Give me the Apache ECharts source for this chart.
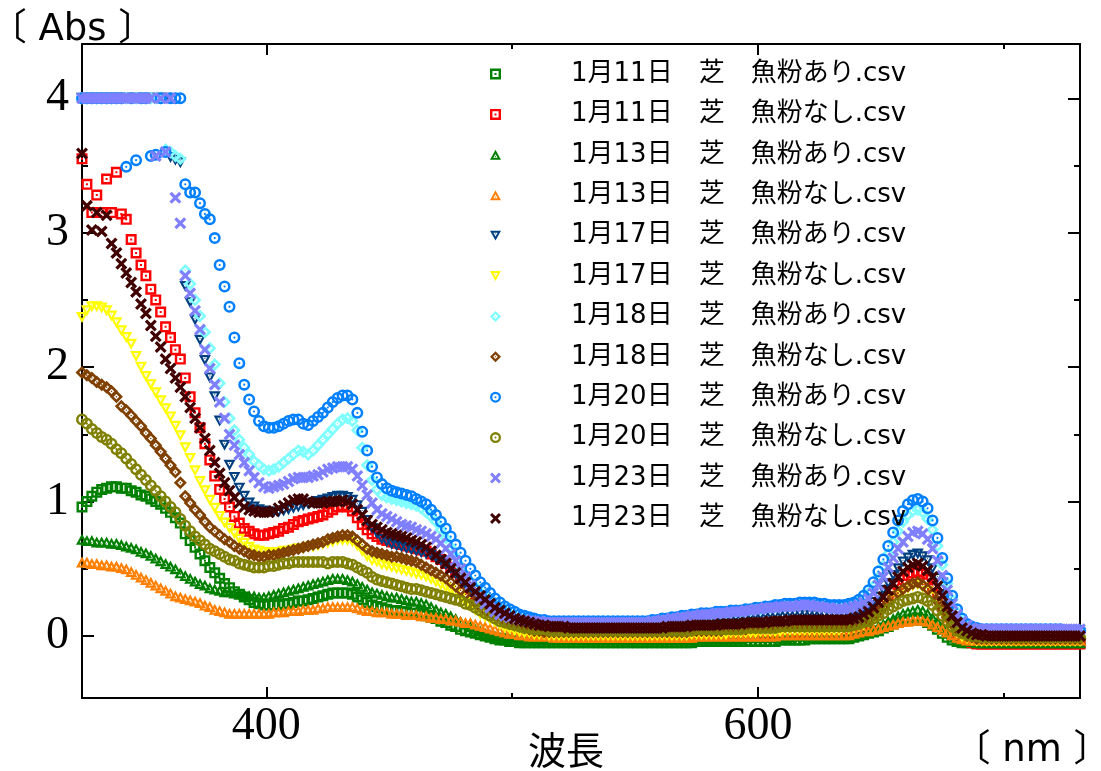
<!DOCTYPE html>
<html>
<head>
<meta charset="utf-8">
<script src="https://cdn.jsdelivr.net/npm/echarts@6/dist/echarts.min.js"></script>
<style>
html,body{margin:0;padding:0;background:#fff;}
#main{width:1101px;height:771px;}
</style>
</head>
<body>
<div id="main"></div>
<script>
// wavelength grid (nm)
const wl = [
325,327,329,331,333,335,337,339,341,343,
345,347,349,351,353,355,357,359,361,363,
365,367,369,371,373,375,377,379,381,383,
385,387,389,391,393,395,397,399,401,403,
405,407,409,411,413,415,417,419,421,423,
425,427,429,431,433,435,437,439,441,443,
445,447,449,451,453,455,457,459,461,463,
465,467,469,471,473,475,477,479,481,483,
485,487,489,491,493,495,497,499,501,503,
505,507,509,511,513,515,517,519,521,523,
525,527,529,531,533,535,537,539,541,543,
545,547,549,551,553,555,557,559,561,563,
565,567,569,571,573,575,577,579,581,583,
585,587,589,591,593,595,597,599,601,603,
605,607,609,611,613,615,617,619,621,623,
625,627,629,631,633,635,637,639,641,643,
645,647,649,651,653,655,657,659,661,663,
665,667,669,671,673,675,677,679,681,683,
685,687,689,691,693,695,697,699,701,703,
705,707,709,711,713,715,717,719,721,723,
725,727,729,731];

const xMajorTicks = [400, 600];
const xMinorTicks = [500, 700];
const yMajorTicks = [0, 1, 2, 3, 4];
const yMinorTicks = [0.5, 1.5, 2.5, 3.5];

const seriesNames = [
'1月11日\u3000芝\u3000魚粉あり.csv','1月11日\u3000芝\u3000魚粉なし.csv',
'1月13日\u3000芝\u3000魚粉あり.csv','1月13日\u3000芝\u3000魚粉なし.csv',
'1月17日\u3000芝\u3000魚粉あり.csv','1月17日\u3000芝\u3000魚粉なし.csv',
'1月18日\u3000芝\u3000魚粉あり.csv','1月18日\u3000芝\u3000魚粉なし.csv',
'1月20日\u3000芝\u3000魚粉あり.csv','1月20日\u3000芝\u3000魚粉なし.csv',
'1月23日\u3000芝\u3000魚粉あり.csv','1月23日\u3000芝\u3000魚粉なし.csv'];

// 1/11 fish meal yes (green squares)
const s0111a = [
.96,1.00,1.04,1.07,1.09,1.10,1.11,1.11,1.10,1.10,
1.08,1.07,1.05,1.04,1.02,1.00,.98,.95,.92,.88,
.84,.76,.71,.66,.61,.56,.51,.47,.43,.39,
.36,.33,.31,.29,.27,.25,.24,.23,.23,.23,
.23,.24,.24,.25,.26,.26,.27,.28,.29,.30,
.31,.32,.32,.32,.32,.31,.29,.27,.25,.23,
.22,.21,.20,.19,.19,.18,.18,.17,.17,.16,
.15,.14,.13,.11,.10,.08,.07,.05,.04,.03,
.02,.01,.00,-.01,-.02,-.03,-.03,-.04,-.04,-.05,
-.05,-.05,-.05,-.05,-.05,-.05,-.05,-.05,-.05,-.05,
-.05,-.05,-.05,-.05,-.05,-.05,-.05,-.05,-.05,-.05,
-.05,-.05,-.05,-.05,-.05,-.05,-.05,-.05,-.05,-.05,
-.05,-.05,-.05,-.05,-.05,-.04,-.04,-.04,-.04,-.04,
-.04,-.04,-.04,-.04,-.04,-.04,-.04,-.04,-.04,-.04,
-.04,-.04,-.03,-.03,-.03,-.03,-.03,-.03,-.02,-.02,
-.02,-.02,-.02,-.02,-.02,-.02,-.02,-.01,.00,.01,
.02,.03,.04,.06,.07,.09,.10,.11,.12,.12,
.13,.12,.10,.08,.05,.02,-.01,-.03,-.04,-.05,
-.05,-.05,-.05,-.05,-.05,-.05,-.05,-.05,-.05,-.05,
-.05,-.05,-.05,-.05,-.05,-.05,-.05,-.05,-.05,-.05,
-.05,-.05,-.05,-.05];

// 1/11 fish meal no (red squares)
const s0111n = [
3.55,3.36,3.15,3.28,3.15,3.40,3.15,3.45,3.14,3.10,
2.95,2.85,2.76,2.68,2.58,2.50,2.41,2.30,2.22,2.13,
2.06,1.92,1.78,1.66,1.55,1.43,1.31,1.19,1.09,1.02,
.96,.89,.84,.80,.78,.76,.75,.75,.76,.77,
.78,.80,.81,.83,.85,.86,.87,.88,.89,.90,
.92,.94,.96,.97,.96,.93,.88,.83,.79,.76,
.74,.72,.71,.70,.69,.68,.67,.66,.65,.64,
.63,.61,.59,.57,.54,.51,.47,.43,.39,.35,
.31,.27,.23,.20,.17,.14,.12,.10,.08,.06,
.05,.04,.03,.02,.01,.00,.00,-.01,-.01,-.01,
-.02,-.02,-.02,-.02,-.02,-.02,-.02,-.02,-.02,-.02,
-.02,-.02,-.02,-.02,-.02,-.02,-.02,-.02,-.01,-.01,
-.01,-.01,-.01,-.01,-.01,.00,.00,.00,.00,.00,
.00,.00,.00,.01,.01,.01,.01,.01,.01,.02,
.02,.02,.02,.03,.03,.03,.03,.03,.04,.04,
.04,.04,.04,.04,.04,.04,.05,.06,.07,.09,
.11,.14,.18,.23,.28,.33,.38,.42,.45,.47,
.48,.46,.42,.37,.30,.22,.14,.07,.02,-.02,
-.04,-.05,-.06,-.06,-.06,-.06,-.06,-.06,-.06,-.06,
-.06,-.06,-.06,-.06,-.06,-.06,-.06,-.06,-.06,-.06,
-.06,-.06,-.06,-.06];

// 1/13 fish meal yes (green triangles)
const s0113a = [
.72,.71,.71,.70,.70,.70,.69,.69,.68,.67,
.66,.65,.63,.62,.60,.58,.56,.54,.52,.50,
.47,.45,.43,.41,.39,.38,.36,.35,.34,.33,
.33,.32,.32,.31,.30,.30,.29,.29,.30,.31,
.32,.33,.34,.35,.36,.37,.38,.39,.40,.41,
.42,.43,.43,.43,.42,.41,.39,.37,.35,.33,
.32,.31,.30,.29,.29,.28,.27,.26,.26,.25,
.24,.22,.20,.18,.17,.15,.13,.11,.09,.07,
.05,.04,.02,.01,.00,-.01,-.01,-.02,-.02,-.03,
-.03,-.03,-.03,-.03,-.03,-.03,-.03,-.03,-.03,-.03,
-.03,-.03,-.03,-.03,-.03,-.03,-.03,-.03,-.03,-.03,
-.03,-.03,-.03,-.03,-.03,-.03,-.03,-.03,-.03,-.03,
-.03,-.03,-.03,-.03,-.03,-.02,-.02,-.02,-.02,-.02,
-.02,-.02,-.02,-.02,-.02,-.01,-.01,-.01,-.01,-.01,
-.01,-.01,-.01,-.01,-.01,.00,.00,.00,.00,.00,
.00,.00,.00,.00,.00,.00,.00,.01,.02,.03,
.04,.05,.07,.09,.11,.13,.15,.17,.18,.19,
.20,.19,.17,.14,.11,.07,.04,.01,-.01,-.03,
-.04,-.04,-.05,-.05,-.05,-.05,-.05,-.05,-.05,-.05,
-.05,-.05,-.05,-.05,-.05,-.05,-.05,-.05,-.05,-.05,
-.05,-.05,-.05,-.05];

// 1/13 fish meal no (orange triangles)
const s0113n = [
.55,.55,.54,.54,.53,.53,.52,.52,.51,.50,
.48,.46,.44,.42,.40,.38,.36,.34,.32,.30,
.29,.28,.27,.26,.25,.23,.22,.20,.19,.18,
.17,.17,.17,.17,.17,.17,.17,.17,.17,.18,
.18,.18,.19,.19,.19,.20,.20,.20,.21,.21,
.22,.22,.22,.22,.22,.22,.21,.20,.19,.19,
.18,.18,.18,.17,.17,.17,.16,.16,.16,.15,
.15,.14,.14,.13,.13,.12,.12,.11,.10,.10,
.09,.08,.07,.06,.05,.04,.03,.02,.02,.01,
.01,.00,.00,.00,.00,.00,-.01,-.01,-.01,-.01,
-.01,-.01,-.01,-.01,-.01,-.01,-.01,-.01,-.01,-.01,
-.01,-.01,-.01,-.01,-.01,-.01,-.01,-.01,-.01,-.01,
-.01,-.01,-.01,-.01,-.01,.00,.00,.00,.00,.00,
.00,.00,.00,.00,.00,.00,.00,.00,.00,.00,
.00,.00,.01,.01,.01,.01,.01,.01,.01,.01,
.01,.01,.01,.01,.01,.01,.01,.02,.03,.04,
.04,.05,.06,.07,.08,.09,.10,.11,.11,.12,
.12,.12,.11,.09,.07,.05,.03,.01,-.01,-.02,
-.03,-.03,-.03,-.03,-.03,-.03,-.03,-.03,-.03,-.03,
-.03,-.03,-.03,-.03,-.03,-.03,-.03,-.03,-.03,-.03,
-.03,-.03,-.03,-.03];

// 1/17 fish meal yes (dark blue inverted triangles)
const s0117a = [
4.0,4.0,4.0,4.0,4.0,4.0,4.0,4.0,4.0,4.0,
4.0,4.0,4.0,4.0,4.0,4.0,4.0,4.0,3.56,3.54,
3.52,2.60,2.48,2.35,2.20,2.05,1.92,1.78,1.60,1.42,
1.27,1.18,1.10,1.04,.99,.96,.94,.93,.92,.92,
.92,.93,.94,.95,.96,.97,.98,.99,1.00,1.01,
1.02,1.03,1.04,1.04,1.03,1.01,.97,.92,.86,.80,
.76,.72,.70,.68,.67,.66,.65,.64,.63,.62,
.61,.60,.58,.56,.53,.50,.46,.42,.38,.34,
.30,.26,.23,.20,.17,.15,.13,.12,.11,.10,
.09,.09,.08,.08,.08,.08,.08,.08,.08,.08,
.08,.08,.08,.08,.08,.08,.08,.08,.08,.08,
.08,.08,.08,.08,.08,.08,.08,.09,.09,.09,
.10,.10,.10,.11,.11,.11,.12,.12,.12,.13,
.13,.13,.13,.14,.14,.14,.15,.15,.15,.16,
.16,.16,.17,.17,.17,.17,.17,.17,.17,.17,
.17,.16,.16,.16,.16,.16,.16,.17,.18,.20,
.22,.25,.29,.34,.39,.45,.50,.55,.58,.60,
.61,.59,.56,.50,.43,.35,.26,.18,.12,.08,
.05,.04,.03,.02,.02,.02,.02,.02,.02,.02,
.02,.02,.02,.02,.02,.02,.02,.02,.02,.02,
.02,.02,.02,.02];

// 1/17 fish meal no (yellow inverted triangles)
const s0117n = [
2.37,2.42,2.45,2.45,2.44,2.42,2.38,2.33,2.27,2.22,
2.17,2.08,2.00,1.93,1.87,1.81,1.75,1.69,1.63,1.56,
1.49,1.40,1.32,1.23,1.15,1.08,1.01,.95,.89,.84,
.80,.76,.72,.69,.66,.64,.63,.62,.62,.62,
.62,.63,.63,.64,.65,.65,.66,.66,.67,.68,
.69,.70,.71,.71,.71,.70,.67,.63,.59,.56,
.55,.53,.52,.51,.50,.49,.48,.47,.46,.45,
.44,.42,.40,.38,.36,.34,.31,.28,.25,.22,
.19,.16,.14,.12,.10,.08,.06,.05,.04,.03,
.02,.02,.01,.01,.01,.00,.00,.00,.00,.00,
.00,.00,.00,.00,.00,.00,.00,.00,.00,.00,
.00,.00,.00,.00,.00,.00,.00,.00,.00,.00,
.00,.00,.00,.00,.01,.01,.01,.01,.01,.01,
.01,.01,.02,.02,.02,.02,.02,.02,.03,.03,
.03,.03,.03,.04,.04,.04,.04,.04,.04,.04,
.04,.04,.04,.04,.04,.05,.05,.06,.07,.08,
.10,.12,.15,.19,.23,.27,.30,.33,.35,.37,
.38,.36,.33,.29,.23,.17,.11,.06,.02,-.01,
-.02,-.03,-.04,-.04,-.04,-.04,-.04,-.04,-.04,-.04,
-.04,-.04,-.04,-.04,-.04,-.04,-.04,-.04,-.04,-.04,
-.04,-.04,-.04,-.04];

// 1/18 fish meal yes (cyan diamonds)
const s0118a = [
4.0,4.0,4.0,4.0,4.0,4.0,4.0,4.0,4.0,4.0,
4.0,4.0,4.0,4.0,4.0,4.0,4.0,3.62,3.60,3.57,
3.55,2.72,2.62,2.50,2.38,2.26,2.14,2.02,1.88,1.74,
1.62,1.53,1.46,1.40,1.35,1.30,1.27,1.24,1.23,1.24,
1.26,1.29,1.32,1.35,1.38,1.37,1.35,1.38,1.42,1.46,
1.50,1.54,1.58,1.61,1.62,1.60,1.53,1.40,1.27,1.16,
1.09,1.05,1.03,1.02,1.01,1.00,.99,.98,.97,.95,
.92,.89,.85,.79,.73,.66,.59,.52,.46,.41,
.37,.33,.30,.27,.24,.21,.19,.17,.15,.14,
.13,.12,.11,.11,.10,.10,.10,.10,.10,.10,
.10,.10,.10,.10,.10,.10,.10,.10,.10,.10,
.10,.10,.10,.10,.10,.10,.11,.11,.12,.12,
.13,.13,.14,.14,.15,.15,.16,.16,.16,.17,
.17,.17,.18,.18,.18,.19,.19,.20,.20,.21,
.21,.22,.22,.23,.23,.23,.24,.24,.24,.24,
.23,.23,.22,.22,.22,.22,.23,.24,.26,.28,
.32,.37,.44,.52,.61,.70,.78,.85,.90,.93,
.94,.92,.87,.79,.67,.53,.39,.27,.18,.12,
.08,.06,.05,.04,.04,.04,.04,.04,.04,.04,
.04,.04,.04,.04,.04,.04,.04,.04,.04,.04,
.04,.04,.04,.04];

// 1/18 fish meal no (brown diamonds)
const s0118n = [
1.96,1.94,1.92,1.89,1.87,1.85,1.82,1.78,1.71,1.68,
1.64,1.60,1.56,1.51,1.47,1.42,1.37,1.32,1.27,1.22,
1.14,1.04,.99,.94,.90,.85,.81,.78,.75,.72,
.70,.67,.65,.63,.61,.60,.59,.59,.60,.60,
.61,.62,.63,.64,.65,.66,.67,.68,.69,.70,
.72,.73,.74,.75,.75,.74,.71,.68,.65,.63,
.62,.61,.60,.59,.59,.58,.57,.56,.55,.53,
.51,.49,.47,.45,.43,.40,.37,.34,.31,.28,
.25,.22,.19,.17,.15,.13,.11,.09,.08,.07,
.06,.05,.04,.04,.03,.03,.03,.03,.03,.03,
.03,.03,.03,.03,.03,.03,.03,.03,.03,.03,
.03,.03,.03,.03,.03,.03,.03,.03,.03,.03,
.03,.03,.03,.03,.04,.04,.04,.04,.04,.04,
.04,.05,.05,.05,.05,.05,.06,.06,.06,.06,
.06,.07,.07,.07,.07,.07,.07,.07,.07,.07,
.07,.07,.07,.07,.07,.07,.08,.08,.09,.11,
.12,.15,.18,.21,.25,.29,.32,.35,.37,.39,
.40,.38,.35,.31,.26,.20,.14,.09,.05,.02,
.00,-.01,-.02,-.02,-.02,-.02,-.02,-.02,-.02,-.02,
-.02,-.02,-.02,-.02,-.02,-.02,-.02,-.02,-.02,-.02,
-.02,-.02,-.02,-.02];

// 1/20 fish meal yes (blue circles)
const s0120a = [
4.0,4.0,4.0,4.0,4.0,4.0,4.0,4.0,4.0,3.49,
4.0,3.54,4.0,4.0,3.57,3.58,4.0,3.60,4.0,4.0,
4.0,3.36,3.30,3.30,3.22,3.14,3.10,2.96,2.76,2.60,
2.45,2.22,2.03,1.87,1.76,1.67,1.60,1.56,1.55,1.55,
1.56,1.58,1.60,1.61,1.61,1.58,1.57,1.60,1.63,1.66,
1.70,1.74,1.77,1.79,1.79,1.76,1.66,1.52,1.38,1.26,
1.18,1.13,1.10,1.08,1.07,1.06,1.05,1.04,1.02,1.00,
.98,.94,.90,.85,.80,.74,.68,.62,.56,.50,
.45,.40,.36,.32,.28,.25,.22,.20,.18,.16,
.15,.14,.13,.12,.12,.11,.11,.11,.11,.11,
.11,.11,.11,.11,.11,.11,.11,.11,.11,.11,
.11,.11,.11,.11,.11,.11,.12,.12,.13,.13,
.14,.14,.15,.15,.16,.16,.17,.17,.17,.18,
.18,.18,.19,.19,.19,.20,.20,.21,.21,.22,
.22,.23,.23,.24,.24,.24,.25,.25,.25,.25,
.24,.24,.23,.23,.23,.23,.24,.25,.27,.30,
.34,.40,.48,.57,.67,.77,.86,.93,.98,1.01,
1.02,1.00,.95,.86,.73,.58,.43,.30,.20,.13,
.09,.07,.06,.05,.05,.05,.05,.05,.05,.05,
.05,.05,.05,.05,.05,.05,.05,.05,.05,.05,
.04,.04,.04,.04];

// 1/20 fish meal no (olive circles)
const s0120n = [
1.61,1.58,1.54,1.51,1.48,1.46,1.43,1.39,1.36,1.32,
1.28,1.24,1.20,1.16,1.12,1.08,1.04,1.00,.96,.92,
.87,.82,.78,.74,.71,.68,.65,.63,.61,.59,
.57,.56,.54,.53,.52,.51,.51,.51,.52,.52,
.53,.54,.54,.55,.55,.55,.55,.55,.55,.55,
.54,.55,.55,.55,.54,.53,.51,.49,.47,.44,
.42,.41,.40,.39,.38,.37,.36,.35,.35,.34,
.33,.32,.31,.30,.29,.28,.27,.26,.24,.23,
.21,.19,.17,.15,.13,.11,.10,.09,.08,.07,
.06,.06,.05,.05,.05,.04,.04,.04,.04,.04,
.04,.04,.04,.04,.04,.04,.04,.04,.04,.04,
.04,.04,.04,.04,.04,.04,.04,.04,.04,.04,
.04,.04,.04,.04,.04,.05,.05,.05,.05,.05,
.05,.05,.05,.05,.05,.06,.06,.06,.06,.06,
.06,.06,.07,.07,.07,.07,.07,.07,.07,.07,
.07,.07,.07,.07,.07,.07,.07,.08,.09,.10,
.11,.13,.15,.17,.20,.22,.24,.26,.27,.28,
.29,.28,.26,.23,.19,.15,.11,.07,.04,.02,
.01,.00,.00,-.01,-.01,-.01,-.01,-.01,-.01,-.01,
-.01,-.01,-.01,-.01,-.01,-.01,-.01,-.01,-.01,-.01,
-.01,-.01,-.01,-.01];

// 1/23 fish meal yes (lavender crosses)
const s0123a = [
4.0,4.0,4.0,4.0,4.0,4.0,4.0,4.0,4.0,4.0,
4.0,4.0,4.0,4.0,4.0,3.57,4.0,3.60,4.0,3.26,
3.07,2.68,2.55,2.42,2.28,2.13,1.99,1.87,1.74,1.62,
1.50,1.42,1.35,1.29,1.23,1.18,1.14,1.11,1.10,1.11,
1.12,1.13,1.15,1.17,1.18,1.18,1.18,1.19,1.20,1.22,
1.24,1.25,1.26,1.26,1.26,1.24,1.19,1.12,1.05,.99,
.94,.91,.89,.87,.85,.83,.82,.81,.79,.78,
.76,.74,.72,.69,.65,.61,.56,.50,.44,.38,
.33,.28,.24,.21,.18,.16,.15,.14,.13,.12,
.12,.11,.11,.11,.10,.10,.10,.10,.10,.10,
.10,.10,.10,.10,.10,.10,.10,.10,.10,.10,
.10,.10,.10,.10,.10,.10,.11,.11,.12,.12,
.13,.13,.14,.14,.15,.15,.16,.16,.16,.17,
.17,.17,.18,.18,.18,.19,.19,.20,.20,.21,
.21,.21,.22,.22,.22,.22,.23,.23,.23,.22,
.22,.21,.21,.20,.20,.20,.21,.22,.23,.25,
.28,.32,.38,.44,.51,.58,.65,.70,.74,.77,
.78,.76,.72,.65,.56,.45,.34,.24,.16,.11,
.08,.06,.05,.05,.05,.05,.05,.05,.05,.05,
.05,.05,.05,.05,.05,.05,.05,.05,.05,.05,
.05,.05,.05,.05];

// 1/23 fish meal no (maroon crosses)
const s0123n = [
3.59,3.20,3.02,3.15,3.01,3.13,2.92,2.85,2.77,2.70,
2.63,2.56,2.47,2.40,2.31,2.23,2.15,2.06,1.99,1.92,
1.85,1.78,1.70,1.62,1.55,1.47,1.38,1.29,1.21,1.14,
1.08,1.03,.99,.96,.94,.93,.92,.92,.92,.93,
.95,.97,.99,1.01,1.02,1.02,1.00,.99,.99,.99,
1.00,1.00,1.00,1.01,1.00,.98,.94,.90,.86,.83,
.81,.79,.77,.76,.75,.74,.73,.71,.70,.68,
.66,.63,.60,.57,.54,.50,.47,.43,.40,.36,
.33,.30,.27,.24,.21,.19,.17,.15,.13,.12,
.11,.10,.09,.08,.08,.07,.07,.07,.07,.06,
.06,.06,.06,.06,.06,.06,.06,.06,.06,.06,
.06,.06,.06,.06,.06,.06,.06,.06,.06,.07,
.07,.07,.07,.07,.08,.08,.08,.08,.08,.08,
.09,.09,.09,.09,.09,.10,.10,.10,.10,.10,
.11,.11,.11,.11,.12,.12,.12,.12,.12,.12,
.12,.12,.12,.12,.12,.12,.12,.13,.14,.16,
.18,.21,.25,.29,.34,.39,.44,.48,.51,.53,
.54,.52,.49,.44,.37,.30,.22,.15,.10,.06,
.04,.02,.01,.01,.00,.00,.00,.00,.00,.00,
.00,.00,.00,.00,.00,.00,.00,.00,.00,.00,
.00,.00,.00,.00];

const seriesValues = [s0111a, s0111n, s0113a, s0113n, s0117a, s0117n,
                      s0118a, s0118n, s0120a, s0120n, s0123a, s0123n];

const colors = ['#008000','#FF0000','#008000','#FF8000','#004080','#FFFF00',
                '#80FFFF','#804000','#0080FF','#808000','#8080FF','#400000'];

const SQ = 'path://M0,0L10,0L10,10L0,10Z M2.2,2.2L2.2,7.8L7.8,7.8L7.8,2.2Z M4.1,4.1L5.9,4.1L5.9,5.9L4.1,5.9Z';
const TU = 'path://M5,0L10,9L0,9Z M5,3.7L3.05,7.2L6.95,7.2Z M4.6,5.7L5.4,5.7L5.4,6.5L4.6,6.5Z';
const TD = 'path://M0,0L10,0L5,9Z M3.05,1.8L5,5.3L6.95,1.8Z M4.6,2.5L5.4,2.5L5.4,3.3L4.6,3.3Z';
const DI = 'path://M5,0L10,5L5,10L0,5Z M5,2.9L2.9,5L5,7.1L7.1,5Z M5,4.3L5.7,5L5,5.7L4.3,5Z';
const CI = 'path://M5,0A5,5,0,1,1,5,10A5,5,0,1,1,5,0Z M5,2.1A2.9,2.9,0,1,0,5,7.9A2.9,2.9,0,1,0,5,2.1Z M5,4.1A0.9,0.9,0,1,1,5,5.9A0.9,0.9,0,1,1,5,4.1Z';
const XX = 'path://M0,1.9L1.9,0L5,3.1L8.1,0L10,1.9L6.9,5L10,8.1L8.1,10L5,6.9L1.9,10L0,8.1L3.1,5Z';
const symbols = [SQ, SQ, TU, TU, TD, TD, DI, DI, CI, CI, XX, XX];
const sizes = [11, 11, [12,11], [12,11], [12,11], [12,11], 13, 13, 12, 12, 12, 12];

const X_MIN = 325, X_MAX = 731, Y_MIN = -0.461, Y_MAX = 4.404;
const serif = '"Liberation Serif", "Times New Roman", serif';
const sans = '"DejaVu Sans", "Noto Sans CJK JP", sans-serif';

function xAx(pos, ticks, len, showLine, showLabel) {
  return {
    type: 'value', position: pos, min: X_MIN, max: X_MAX,
    axisLine: {show: showLine, onZero: false, lineStyle: {color: '#000', width: 2}},
    axisTick: {show: true, inside: true, length: len, customValues: ticks, lineStyle: {color: '#000', width: 2}},
    axisLabel: showLabel ? {show: true, customValues: ticks, color: '#000', fontFamily: serif, fontSize: 46, margin: 6} : {show: false},
    splitLine: {show: false}
  };
}
function yAx(pos, ticks, len, showLine, showLabel) {
  return {
    type: 'value', position: pos, min: Y_MIN, max: Y_MAX,
    axisLine: {show: showLine, onZero: false, lineStyle: {color: '#000', width: 2}},
    axisTick: {show: true, inside: true, length: len, customValues: ticks, lineStyle: {color: '#000', width: 2}},
    axisLabel: showLabel ? {show: true, customValues: ticks, color: '#000', fontFamily: serif, fontSize: 46, margin: 13} : {show: false},
    splitLine: {show: false}
  };
}

const chart = echarts.init(document.getElementById('main'), null, {renderer: 'canvas'});
chart.setOption({
  animation: false,
  backgroundColor: '#fff',
  grid: {left: 82, right: 21, top: 44, bottom: 73, containLabel: false},
  xAxis: [
    xAx('bottom', xMajorTicks, 11, true, true),
    xAx('bottom', xMinorTicks, 5, false, false),
    xAx('top', xMajorTicks, 11, true, false),
    xAx('top', xMinorTicks, 5, false, false)
  ],
  yAxis: [
    yAx('left', yMajorTicks, 12, true, true),
    yAx('left', yMinorTicks, 6, false, false),
    yAx('right', yMajorTicks, 12, true, false),
    yAx('right', yMinorTicks, 6, false, false)
  ],
  legend: {
    orient: 'vertical', left: 485, top: 54,
    itemWidth: 11, itemHeight: 11, itemGap: 10.4,
    selectedMode: false,
    textStyle: {fontFamily: sans, fontSize: 26, color: '#000', lineHeight: 30, padding: [0, 0, 0, 65]},
    data: seriesNames.map((n, i) => ({name: n, icon: symbols[i]}))
  },
  graphic: [
    {type: 'text', x: 72.5, y: 30, style: {text: '〔 Abs 〕', fontFamily: sans, fontSize: 37, fill: '#000', align: 'center', verticalAlign: 'middle'}},
    {type: 'text', x: 1032, y: 751, style: {text: '〔 nm 〕', fontFamily: sans, fontSize: 37, fill: '#000', align: 'center', verticalAlign: 'middle'}},
    {type: 'text', x: 566, y: 750, style: {text: '波長', fontFamily: '"Noto Sans CJK JP", sans-serif', fontSize: 38, fill: '#000', align: 'center', verticalAlign: 'middle'}}
  ],
  series: seriesNames.map((n, i) => ({
    name: n, type: 'scatter', xAxisIndex: 0, yAxisIndex: 0,
    symbol: symbols[i], symbolSize: sizes[i], clip: false,
    itemStyle: {color: colors[i], opacity: 1},
    emphasis: {disabled: true},
    data: wl.map((x, j) => [x, seriesValues[i][j]])
  }))
});
seriesValues.forEach((a, i) => { if (a.length !== wl.length) throw new Error('length mismatch series ' + i + ': ' + a.length + ' vs ' + wl.length); });
</script>
</body>
</html>
